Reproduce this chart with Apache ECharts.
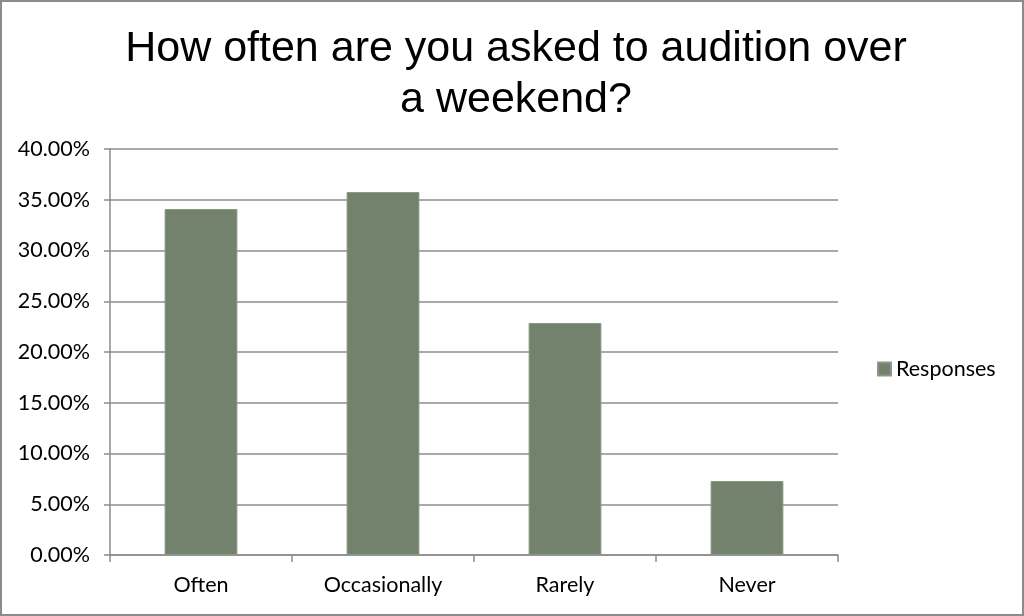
<!DOCTYPE html>
<html><head><meta charset="utf-8">
<script src="https://cdn.jsdelivr.net/npm/echarts@6/dist/echarts.min.js"></script>
<style>html,body{margin:0;padding:0;background:#fff}#c{width:1024px;height:616px;box-sizing:border-box;border:2px solid #8c8c8c}</style>
</head><body><div id="c"></div>
<script>
const titleText = "How often are you asked to audition over\na weekend?";
const categories = ["Often", "Occasionally", "Rarely", "Never"];
const seriesName = "Responses";
const responses = [34.09, 35.76, 22.86, 7.29];
const yTicks = { min: 0, max: 40, interval: 5 };

const chart = echarts.init(document.getElementById('c'));
const lbl = { fontFamily: 'Lato, "Open Sans", sans-serif', fontSize: 21.5, color: '#000' };
chart.setOption({
  animation: false,
  title: { text: titleText, left: 509, top: 17, textAlign: 'center',
    textStyle: { fontFamily: '"Liberation Sans", Arial, sans-serif', fontWeight: 'normal', fontSize: 43, lineHeight: 51, color: '#000' } },
  legend: { data: [seriesName], left: 870, top: 351, orient: 'vertical', icon: 'rect', itemWidth: 13, itemHeight: 13, itemGap: 6,
    textStyle: { fontFamily: lbl.fontFamily, fontSize: 21.5, color: '#000' } },
  grid: { left: 108, right: 184, top: 147, bottom: 59, containLabel: false },
  xAxis: { type: 'category', data: categories,
    axisLine: { lineStyle: { color: '#8c8c8c', width: 1.5 } },
    axisTick: { show: true, length: 7, lineStyle: { color: '#8c8c8c', width: 1.5 } },
    axisLabel: Object.assign({ margin: 19 }, lbl) },
  yAxis: { type: 'value', min: yTicks.min, max: yTicks.max, interval: yTicks.interval,
    axisLine: { show: true, lineStyle: { color: '#8c8c8c', width: 1.5 } },
    axisTick: { show: true, length: 6, lineStyle: { color: '#8c8c8c', width: 1.5 } },
    splitLine: { lineStyle: { color: '#8c8c8c', width: 1.5 } },
    axisLabel: Object.assign({ margin: 20, formatter: v => v.toFixed(2) + '%' }, lbl) },
  series: [{ name: seriesName, type: 'bar', data: responses, barWidth: '40%',
    itemStyle: { color: '#72826d', borderColor: '#8a9886', borderWidth: 1 } }]
});
</script></body></html>
